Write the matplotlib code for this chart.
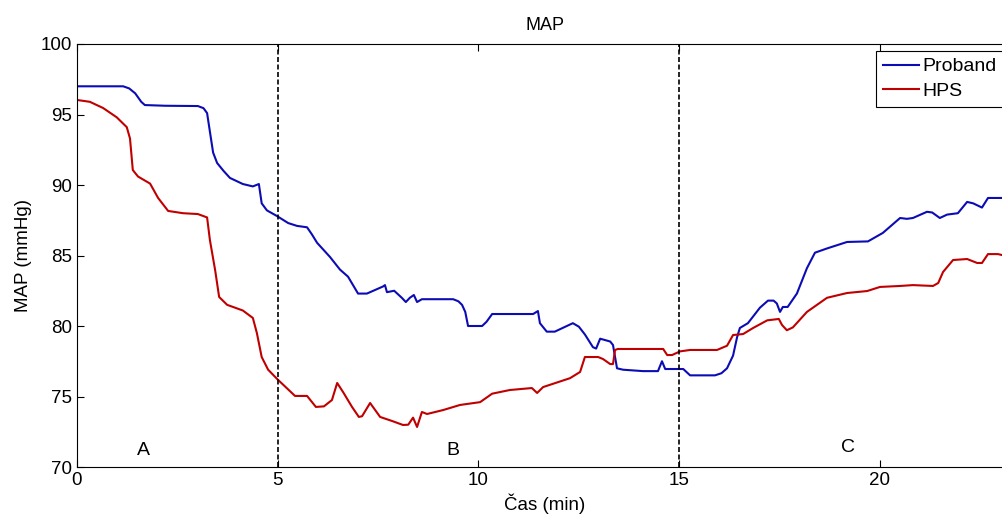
import numpy as np
import matplotlib
matplotlib.use('Agg')
import matplotlib.pyplot as plt

plt.rcParams['font.family'] = ['Liberation Sans', 'DejaVu Sans']

# Proband (blue) - time in min, MAP in mmHg
t_prob = [0, 1.15, 1.3, 1.45, 1.6, 1.69, 2.2, 3.01, 3.15, 3.24, 3.32, 3.39, 3.49, 3.65, 3.81,
          4.13, 4.38, 4.53, 4.6, 4.73, 4.98, 5.26, 5.48, 5.73, 5.85, 5.98, 6.3, 6.55, 6.75,
          7.0, 7.22, 7.62, 7.67, 7.72, 7.9, 8.09, 8.19, 8.29, 8.39, 8.47, 8.59, 9.37, 9.5,
          9.59, 9.67, 9.74, 10.09, 10.2, 10.34, 11.36, 11.48, 11.53, 11.7, 11.9, 12.35, 12.5,
          12.65, 12.85, 12.93, 13.03, 13.28, 13.35, 13.45, 13.6, 14.1, 14.47, 14.57, 14.65,
          14.97, 15.1, 15.27, 15.89, 16.05, 16.19, 16.34, 16.44, 16.51, 16.71, 17.01, 17.21,
          17.35, 17.43, 17.51, 17.58, 17.7, 17.93, 18.18, 18.38, 18.68, 19.18, 19.7, 20.07,
          20.5, 20.67, 20.82, 21.17, 21.3, 21.49, 21.67, 21.94, 22.17, 22.32, 22.54, 22.69, 23.3]
v_prob = [97.0, 97.0, 96.85, 96.5, 95.9, 95.67, 95.62, 95.6, 95.45, 95.1, 93.6, 92.3, 91.56, 91.0, 90.5,
          90.07, 89.9, 90.07, 88.7, 88.2, 87.8, 87.3, 87.1, 87.0, 86.5, 85.9, 84.9, 84.0, 83.5,
          82.3, 82.3, 82.8, 82.9, 82.4, 82.5, 82.0, 81.7, 82.0, 82.2, 81.7, 81.9, 81.9, 81.75,
          81.5, 81.0, 80.0, 80.0, 80.3, 80.85, 80.85, 81.06, 80.2, 79.6, 79.6, 80.2, 79.95,
          79.4, 78.5, 78.4, 79.1, 78.9, 78.65, 77.0, 76.9, 76.8, 76.8, 77.5, 76.95,
          76.95, 76.95, 76.5, 76.5, 76.65, 77.0, 77.9, 79.2, 79.86, 80.2, 81.3, 81.8,
          81.8, 81.6, 81.0, 81.35, 81.35, 82.3, 84.1, 85.2, 85.5, 85.96, 86.0, 86.6,
          87.66, 87.6, 87.66, 88.1, 88.05, 87.66, 87.9, 88.0, 88.8, 88.7, 88.4, 89.08, 89.08]

# HPS (red)
t_hps = [0, 0.32, 0.65, 0.99, 1.24, 1.32, 1.39, 1.52, 1.82, 2.02, 2.27, 2.64, 3.01, 3.24,
         3.31, 3.44, 3.54, 3.74, 4.13, 4.38, 4.48, 4.6, 4.76, 5.0, 5.43, 5.73, 5.95, 6.15,
         6.35, 6.48, 6.63, 6.85, 7.02, 7.1, 7.3, 7.55, 7.85, 8.12, 8.25, 8.37, 8.47, 8.59,
         8.72, 9.12, 9.54, 10.04, 10.34, 10.78, 11.33, 11.46, 11.61, 12.28, 12.53, 12.65,
         12.98, 13.1, 13.28, 13.35, 13.4, 13.47, 13.77, 14.6, 14.7, 14.82, 15.02, 15.27,
         15.59, 15.94, 16.19, 16.34, 16.59, 16.84, 17.19, 17.48, 17.56, 17.68, 17.83, 18.18,
         18.43, 18.68, 19.18, 19.68, 20.0, 20.5, 20.82, 21.32, 21.45, 21.57, 21.82, 22.17,
         22.42, 22.54, 22.69, 22.94, 23.3]
v_hps = [96.03, 95.9, 95.46, 94.8, 94.1, 93.3, 91.06, 90.6, 90.1, 89.08, 88.16, 88.0, 87.94, 87.7,
         86.1, 83.97, 82.06, 81.5, 81.1, 80.57, 79.5, 77.8, 76.9, 76.2, 75.04, 75.04, 74.26, 74.3,
         74.75, 75.96, 75.3, 74.26, 73.55, 73.6, 74.54, 73.55, 73.26, 72.98, 73.0, 73.5, 72.84, 73.9,
         73.76, 74.04, 74.4, 74.6, 75.2, 75.46, 75.6, 75.25, 75.67, 76.3, 76.74, 77.8,
         77.8, 77.66, 77.3, 77.3, 78.3, 78.37, 78.37, 78.37, 77.94, 77.94, 78.2, 78.3,
         78.3, 78.3, 78.6, 79.36, 79.43, 79.86, 80.4, 80.5, 80.07, 79.7, 79.9, 81.0,
         81.5, 82.0, 82.34, 82.48, 82.77, 82.84, 82.9, 82.84, 83.05, 83.83, 84.68, 84.75,
         84.47, 84.47, 85.1, 85.1, 84.85]

phase_lines = [5, 15]
phase_names = ['A', 'B', 'C']
phase_x = [1.65, 9.36, 19.2]
phase_y = [71.2, 71.2, 71.4]

fig = plt.figure(figsize=(10.03, 5.16), dpi=100)
# the original picture is cropped: the right side of the axes lies outside
ax = fig.add_axes([77/1003, 49/516, 936/1003, 423/516])

ax.plot(t_prob, v_prob, color='#0c0cb4', lw=1.5, label='Proband')
ax.plot(t_hps, v_hps, color='#c00000', lw=1.5, label='HPS')
for xl in phase_lines:
    ax.axvline(xl, color='black', ls='--', lw=1.2, dashes=(3, 1.5))
for name, xx, yy in zip(phase_names, phase_x, phase_y):
    ax.text(xx, yy, name, fontsize=14, ha='center', va='center')

ax.set_xlim(0, 936/40.15)
ax.set_ylim(70, 100)
ax.set_xticks([0, 5, 10, 15, 20])
ax.set_yticks(np.arange(70, 101, 5))
ax.tick_params(direction='in', labelsize=13.5, top=True, right=True, length=5)
ax.set_xlabel('Čas (min)', fontsize=13.5, labelpad=3)
ax.set_ylabel('MAP (mmHg)', fontsize=13.5, labelpad=6)
ax.set_title('MAP', fontsize=13, pad=10)

leg = ax.legend(loc='upper left', bbox_to_anchor=(876/1003, 1 - 51/516),
                bbox_transform=fig.transFigure, fontsize=14, fancybox=False,
                edgecolor='black', framealpha=1, borderaxespad=0, handlelength=1.85,
                handletextpad=0.2, borderpad=0.35, labelspacing=0.35)
leg.get_frame().set_linewidth(0.8)

fig.savefig('out.png', dpi=100)
